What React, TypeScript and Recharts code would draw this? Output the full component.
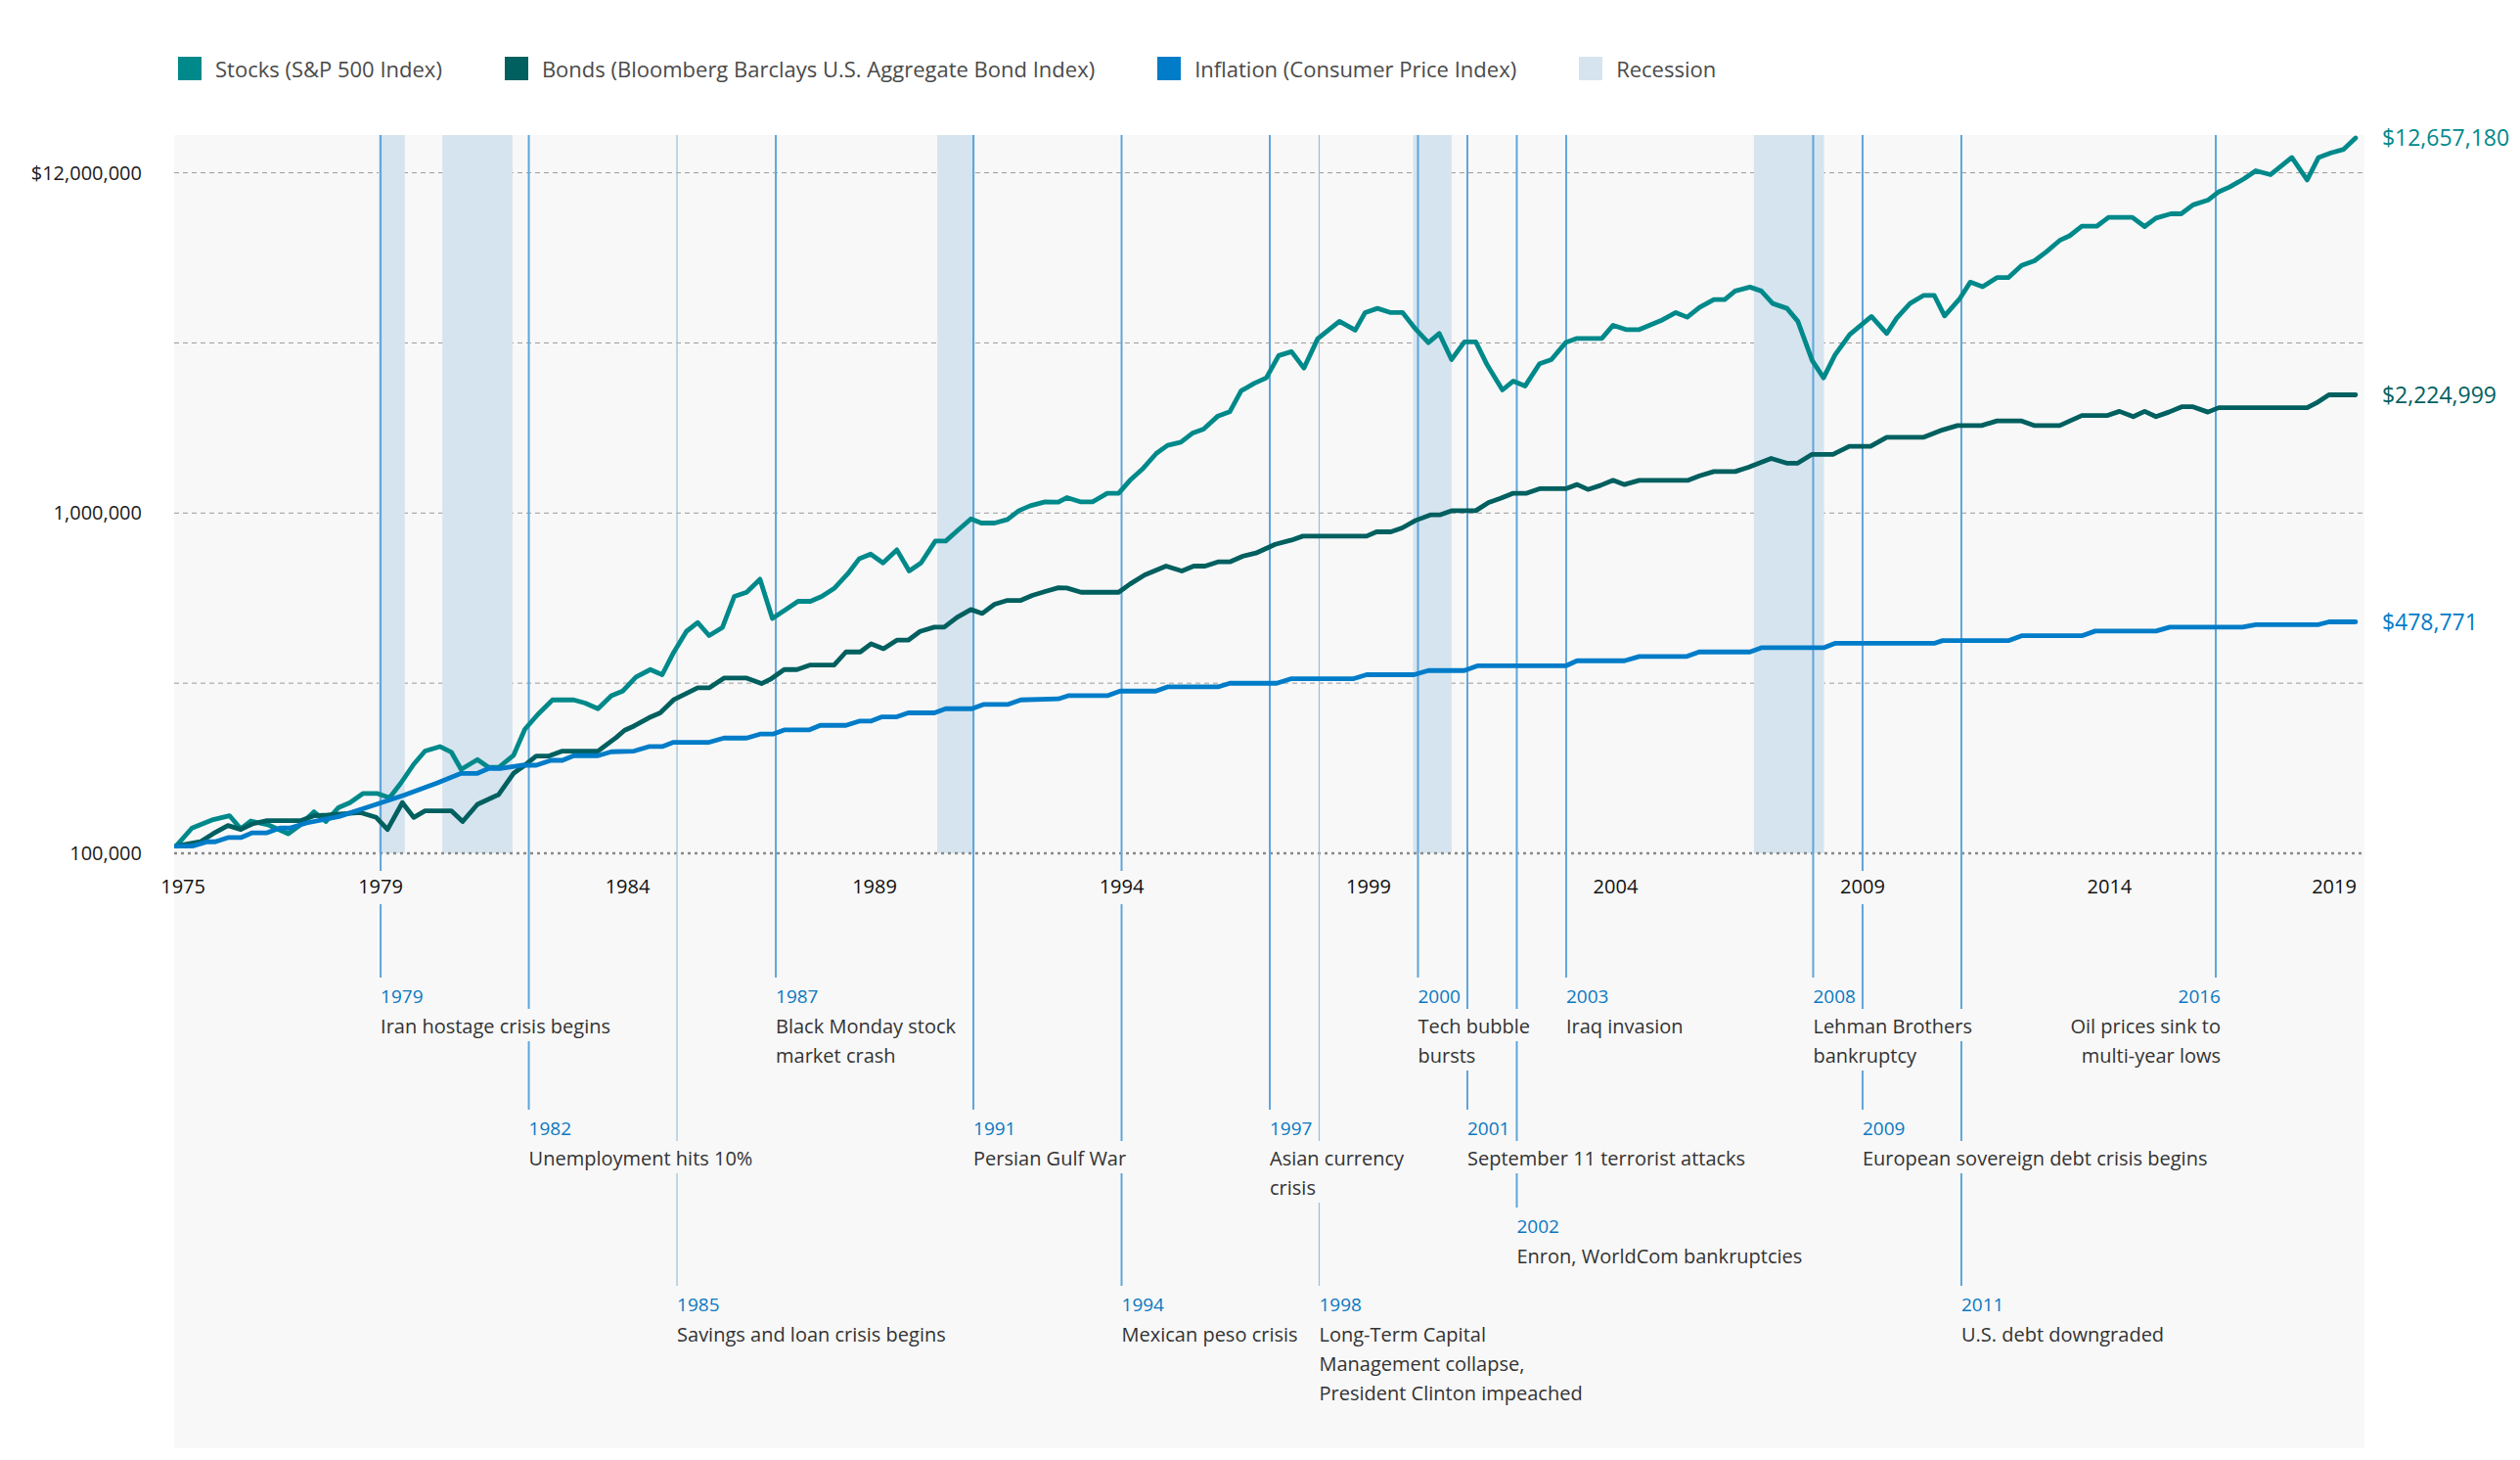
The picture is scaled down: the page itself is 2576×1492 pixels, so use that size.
import React from "react";
import {
    LineChart,
    Line,
    XAxis,
    YAxis,
    CartesianGrid,
    ReferenceArea,
    ReferenceLine,
    ReferenceDot,
} from "recharts";

const FONT = '"Open Sans", sans-serif';
const PANEL = "#f8f8f8";
const EVENT_BLUE = "#0a78c2";

// growth of $100,000, [year, value]
const stocks: [number, number][] = [
    [1974.86, 105000], [1975.18, 118600], [1975.61, 125600], [1975.94, 129000], [1976.17, 118000],
    [1976.37, 124400], [1976.74, 121000], [1977.13, 114100], [1977.36, 120700], [1977.65, 132400],
    [1977.89, 124000], [1978.15, 136300], [1978.38, 140900], [1978.64, 149800], [1978.94, 149800],
    [1979.18, 145600], [1979.41, 160800], [1979.67, 182700], [1979.9, 199700], [1980.2, 205900],
    [1980.43, 198400], [1980.63, 176400], [1980.96, 188500], [1981.19, 178800], [1981.39, 178800],
    [1981.69, 194000], [1981.92, 231500], [1982.18, 255700], [1982.48, 282400], [1982.91, 282400],
    [1983.14, 276300], [1983.4, 266000], [1983.67, 290500], [1983.9, 299700], [1984.17, 329500],
    [1984.46, 346700], [1984.7, 334800], [1984.93, 388800], [1985.19, 448900], [1985.42, 476500],
    [1985.65, 436300], [1985.92, 461000], [1986.16, 568700], [1986.41, 585000], [1986.68, 639000],
    [1986.93, 490300], [1987.2, 520500], [1987.45, 550200], [1987.7, 550200], [1987.93, 568700],
    [1988.19, 602000], [1988.46, 663600], [1988.69, 734400], [1988.92, 757700], [1989.17, 713800],
    [1989.45, 779500], [1989.7, 675700], [1989.94, 713800], [1990.23, 827500], [1990.44, 827500],
    [1990.7, 894000], [1990.95, 961700], [1991.16, 934700], [1991.43, 934700], [1991.69, 957000],
    [1991.92, 1016000], [1992.15, 1050000], [1992.45, 1078000], [1992.72, 1077000], [1992.89, 1110000],
    [1993.18, 1078000], [1993.41, 1078000], [1993.71, 1143000], [1993.94, 1143000], [1994.17, 1248000],
    [1994.44, 1355000], [1994.7, 1496000], [1994.93, 1581000], [1995.2, 1616000], [1995.43, 1715000],
    [1995.66, 1765000], [1995.95, 1928000], [1996.19, 1984000], [1996.42, 2286000], [1996.68, 2404000],
    [1996.93, 2497000], [1997.18, 2902000], [1997.44, 2980000], [1997.69, 2667000], [1997.97, 3254000],
    [1998.41, 3660000], [1998.73, 3447000], [1998.93, 3883000], [1999.18, 3995000], [1999.45, 3883000],
    [1999.69, 3883000], [1999.95, 3476000], [2000.21, 3169000], [2000.43, 3370000], [2000.68, 2825000],
    [2000.94, 3184000], [2001.17, 3184000], [2001.4, 2726000], [2001.71, 2300000], [2001.93, 2442000],
    [2002.17, 2363000], [2002.46, 2745000], [2002.7, 2825000], [2002.99, 3169000], [2003.22, 3260000],
    [2003.72, 3260000], [2003.95, 3563000], [2004.21, 3460000], [2004.48, 3460000], [2004.91, 3673000],
    [2005.22, 3883000], [2005.45, 3764000], [2005.7, 4022000], [2005.99, 4241000], [2006.21, 4241000],
    [2006.42, 4493000], [2006.72, 4614000], [2006.95, 4493000], [2007.18, 4130000], [2007.47, 3995000],
    [2007.69, 3660000], [2007.98, 2807000], [2008.21, 2497000], [2008.44, 2913000], [2008.74, 3348000],
    [2009.18, 3781000], [2009.49, 3370000], [2009.69, 3739000], [2009.96, 4130000], [2010.24, 4364000],
    [2010.45, 4364000], [2010.66, 3796000], [2010.96, 4252000], [2011.18, 4770000], [2011.43, 4625000],
    [2011.72, 4920000], [2011.95, 4920000], [2012.22, 5343000], [2012.48, 5512000], [2012.72, 5855000],
    [2012.99, 6327000], [2013.19, 6527000], [2013.44, 6964000], [2013.74, 6964000], [2013.98, 7397000],
    [2014.46, 7397000], [2014.71, 6950000], [2014.94, 7360000], [2015.24, 7576000], [2015.45, 7576000],
    [2015.69, 8047000], [2015.99, 8307000], [2016.2, 8777000], [2016.43, 9079000], [2016.72, 9598000],
    [2016.96, 10140000], [2017.26, 9875000], [2017.69, 11090000], [2018.0, 9529000], [2018.23, 11090000],
    [2018.48, 11440000], [2018.74, 11720000], [2018.98, 12657180],
];

const bonds: [number, number][] = [
    [1974.86, 105000], [1975.35, 108100], [1975.61, 114200], [1975.91, 120700], [1976.17, 117500],
    [1976.4, 122000], [1976.7, 124800], [1977.39, 124800], [1977.66, 129000], [1977.92, 129500],
    [1978.58, 131800], [1978.91, 127500], [1979.14, 117500], [1979.44, 140900], [1979.67, 127500],
    [1979.9, 133300], [1980.43, 133300], [1980.66, 124000], [1980.96, 139300], [1981.39, 148800],
    [1981.69, 171800], [1981.92, 181500], [1982.15, 193200], [1982.41, 193200], [1982.68, 199700],
    [1983.4, 199700], [1983.77, 219000], [1983.94, 229900], [1984.13, 236600], [1984.43, 250100],
    [1984.66, 258600], [1984.93, 282400], [1985.19, 295000], [1985.42, 306300], [1985.65, 306300],
    [1985.95, 327300], [1986.41, 327300], [1986.71, 315400], [1986.91, 326000], [1987.17, 346700],
    [1987.43, 346700], [1987.7, 357700], [1988.18, 357700], [1988.42, 390600], [1988.71, 390600],
    [1988.93, 412700], [1989.18, 399300], [1989.45, 423000], [1989.68, 423000], [1989.92, 448900],
    [1990.21, 461900], [1990.41, 461900], [1990.67, 493600], [1990.95, 520500], [1991.18, 506800],
    [1991.43, 539400], [1991.69, 553800], [1991.96, 553800], [1992.19, 572500], [1992.45, 587900],
    [1992.72, 603000], [1992.89, 602000], [1993.18, 585000], [1993.94, 585000], [1994.17, 618300],
    [1994.47, 658000], [1994.9, 698400], [1995.22, 675700], [1995.46, 698400], [1995.69, 698400],
    [1995.95, 718600], [1996.19, 718600], [1996.45, 746200], [1996.72, 762700], [1997.11, 809500],
    [1997.44, 832900], [1997.67, 855300], [1998.96, 855300], [1999.16, 880600], [1999.45, 880600],
    [1999.68, 904300], [1999.95, 951000], [2000.25, 987600], [2000.44, 987600], [2000.68, 1016000],
    [2001.17, 1016000], [2001.43, 1074000], [2001.67, 1104000], [2001.93, 1143000], [2002.2, 1143000],
    [2002.46, 1179000], [2002.99, 1179000], [2003.22, 1213000], [2003.44, 1173000], [2003.69, 1205000],
    [2003.95, 1248000], [2004.18, 1213000], [2004.48, 1248000], [2005.47, 1248000], [2005.7, 1287000],
    [2005.99, 1324000], [2006.42, 1324000], [2006.69, 1363000], [2007.15, 1447000], [2007.48, 1400000],
    [2007.68, 1400000], [2007.97, 1486000], [2008.4, 1486000], [2008.73, 1570000], [2009.16, 1570000],
    [2009.49, 1670000], [2010.24, 1670000], [2010.62, 1755000], [2010.92, 1808000], [2011.41, 1808000],
    [2011.72, 1865000], [2012.22, 1865000], [2012.47, 1808000], [2012.99, 1808000], [2013.44, 1935000],
    [2013.96, 1935000], [2014.2, 1990000], [2014.48, 1920000], [2014.71, 1990000], [2014.94, 1920000],
    [2015.2, 1980000], [2015.46, 2053000], [2015.69, 2053000], [2015.99, 1980000], [2016.21, 2040000],
    [2018.0, 2040000], [2018.22, 2120000], [2018.44, 2225000], [2018.98, 2224999],
];

const inflation: [number, number][] = [
    [1974.86, 105000], [1975.19, 105000], [1975.49, 108100], [1975.65, 108100], [1975.91, 111200],
    [1976.17, 111200], [1976.4, 114900], [1976.7, 114900], [1976.96, 118600], [1977.16, 118600],
    [1977.5, 122800], [1978.16, 128300], [1978.82, 137800], [1979.48, 148200], [1980.14, 160800],
    [1980.63, 171800], [1980.96, 171800], [1981.19, 177600], [1981.42, 177600], [1981.88, 181500],
    [1982.15, 181500], [1982.45, 187600], [1982.68, 187600], [1982.91, 193600], [1983.4, 193600],
    [1983.67, 198800], [1984.13, 199700], [1984.43, 205900], [1984.7, 205900], [1984.93, 212000],
    [1985.65, 212000], [1985.95, 218100], [1986.41, 218100], [1986.68, 224000], [1986.94, 224000],
    [1987.17, 230400], [1987.67, 230400], [1987.9, 237700], [1988.42, 237700], [1988.69, 244600],
    [1988.92, 244600], [1989.15, 251800], [1989.45, 251800], [1989.68, 258600], [1990.21, 258600],
    [1990.44, 266000], [1990.97, 266000], [1991.2, 273700], [1991.69, 273700], [1991.96, 282400],
    [1992.72, 284300], [1992.92, 290500], [1993.71, 290500], [1993.97, 299700], [1994.69, 299700],
    [1994.93, 308400], [1995.95, 308400], [1996.19, 316000], [1997.14, 316000], [1997.44, 326000],
    [1998.7, 326000], [1998.96, 334800], [1999.92, 334800], [2000.21, 344400], [2000.94, 344400],
    [2001.2, 355500], [2002.99, 355500], [2003.22, 368000], [2004.18, 368000], [2004.48, 378700],
    [2005.43, 378700], [2005.69, 390600], [2006.72, 390600], [2006.95, 401900], [2008.21, 401900],
    [2008.44, 414000], [2010.45, 414000], [2010.62, 421800], [2011.95, 421800], [2012.22, 436000],
    [2013.44, 436000], [2013.71, 450000], [2014.94, 450000], [2015.22, 462000], [2016.69, 462000],
    [2016.96, 470000], [2018.23, 470000], [2018.44, 478771], [2018.98, 478771],
];

const series = [
    { name: "Stocks (S&P 500 Index)", color: "#00898a", points: stocks },
    { name: "Bonds (Bloomberg Barclays U.S. Aggregate Bond Index)", color: "#005f5f", points: bonds },
    { name: "Inflation (Consumer Price Index)", color: "#007cc8", points: inflation },
];
const recessionColor = "#d6e4ef";

const recessions: [number, number][] = [
    [1978.96, 1979.49],
    [1980.25, 1981.67],
    [1990.27, 1991.03],
    [1999.9, 2000.68],
    [2006.8, 2008.22],
];

const xTicks = [1975, 1979, 1984, 1989, 1994, 1999, 2004, 2009, 2014, 2019];
const yTicks = [100000, 316228, 1000000, 3162278, 10000000];
const yTickLabels = ["100,000", "", "1,000,000", "", "$12,000,000"];

type EventNote = {
    year: number;
    label: string;
    lines: string[];
    row: number;
    faint?: boolean;
    alignEnd?: boolean;
};

const events: EventNote[] = [
    { year: 1979, label: "1979", lines: ["Iran hostage crisis begins"], row: 0 },
    { year: 1982, label: "1982", lines: ["Unemployment hits 10%"], row: 1 },
    { year: 1985, label: "1985", lines: ["Savings and loan crisis begins"], row: 3, faint: true },
    { year: 1987, label: "1987", lines: ["Black Monday stock", "market crash"], row: 0 },
    { year: 1991, label: "1991", lines: ["Persian Gulf War"], row: 1 },
    { year: 1994, label: "1994", lines: ["Mexican peso crisis"], row: 3 },
    { year: 1997, label: "1997", lines: ["Asian currency", "crisis"], row: 1 },
    { year: 1998, label: "1998", lines: ["Long-Term Capital", "Management collapse,", "President Clinton impeached"], row: 3, faint: true },
    { year: 2000, label: "2000", lines: ["Tech bubble", "bursts"], row: 0 },
    { year: 2001, label: "2001", lines: ["September 11 terrorist attacks"], row: 1 },
    { year: 2002, label: "2002", lines: ["Enron, WorldCom bankruptcies"], row: 2 },
    { year: 2003, label: "2003", lines: ["Iraq invasion"], row: 0 },
    { year: 2008, label: "2008", lines: ["Lehman Brothers", "bankruptcy"], row: 0 },
    { year: 2009, label: "2009", lines: ["European sovereign debt crisis begins"], row: 1 },
    { year: 2011, label: "2011", lines: ["U.S. debt downgraded"], row: 3 },
    { year: 2016.15, label: "2016", lines: ["Oil prices sink to", "multi-year lows"], row: 0, alignEnd: true },
];

// layout of the annotation band under the axis
const ROW_BASELINE = [1025, 1160, 1260, 1340];
const TEXT_STEP = 30;

let measureCtx: CanvasRenderingContext2D | null = null;
const textWidth = (s: string, size: number) => {
    if (!measureCtx) measureCtx = document.createElement("canvas").getContext("2d");
    if (!measureCtx) return s.length * size * 0.5;
    measureCtx.font = `${size}px "Open Sans"`;
    return measureCtx.measureText(s).width;
};

const eventLineShape = (ev: EventNote) => (p: any) => {
    const x = p.x1;
    const top = Math.min(p.y1, p.y2);
    const axisY = Math.max(p.y1, p.y2);
    const end = ROW_BASELINE[ev.row] - 26;
    // leave room for the year tick label when the line runs through it
    const segs = xTicks.includes(ev.year)
        ? [[top, axisY + 18], [axisY + 52, end]]
        : [[top, end]];
    return (
        <g>
            {segs.map(([a, b], i) => (
                <line
                    key={i}
                    x1={x}
                    x2={x}
                    y1={a}
                    y2={b}
                    stroke={ev.faint ? "#9dbdd6" : "#5ea6db"}
                    strokeWidth={ev.faint ? 1.2 : 2}
                />
            ))}
        </g>
    );
};

const eventLabelShape = (ev: EventNote) => (p: any) => {
    const base = ROW_BASELINE[ev.row];
    const ax = ev.alignEnd ? p.x1 + 5 : p.x1;
    const rows = [
        { text: ev.label, size: 19, color: EVENT_BLUE, y: base },
        ...ev.lines.map((t, i) => ({ text: t, size: 20, color: "#333", y: base + 31 + i * TEXT_STEP })),
    ];
    return (
        <g>
            {rows.map((r, i) => {
                const w = textWidth(r.text, r.size);
                const left = ev.alignEnd ? ax - w : ax;
                return <rect key={"m" + i} x={left - 5} y={r.y - 25} width={w + 10} height={33} fill={PANEL} />;
            })}
            {rows.map((r, i) => (
                <text
                    key={i}
                    x={ax}
                    y={r.y}
                    textAnchor={ev.alignEnd ? "end" : "start"}
                    fontSize={r.size}
                    fontFamily={FONT}
                    fill={r.color}
                >
                    {r.text}
                </text>
            ))}
        </g>
    );
};

const YearTick = ({ x, y, payload }: any) => {
    const last = payload.value === xTicks[xTicks.length - 1];
    return (
        <text
            x={x}
            y={y + 41}
            textAnchor={last ? "end" : "middle"}
            fontSize={20}
            fontFamily={FONT}
            fill="#111"
        >
            {payload.value}
        </text>
    );
};

const toRows = (pts: [number, number][]) => pts.map(([t, v]) => ({ t, v }));

const App = () => {
    return (
        <div style={{ position: "absolute", left: 0, top: 0, width: 2576, height: 1492, background: "#fff", fontFamily: FONT }}>
            <div style={{ position: "absolute", left: 178, top: 138, width: 2239, height: 1342, background: PANEL }} />

            <div
                style={{
                    position: "absolute",
                    left: 182,
                    top: 58,
                    display: "flex",
                    alignItems: "center",
                    gap: 64,
                    fontSize: 22,
                    lineHeight: "24px",
                    color: "#4a4a4a",
                    whiteSpace: "nowrap",
                }}
            >
                {[...series.map((s) => ({ name: s.name, color: s.color })), { name: "Recession", color: recessionColor }].map((it) => (
                    <div key={it.name} style={{ display: "flex", alignItems: "center", gap: 14 }}>
                        <span style={{ display: "inline-block", width: 24, height: 24, background: it.color }} />
                        <span>{it.name}</span>
                    </div>
                ))}
            </div>

            <div style={{ position: "absolute", left: 0, top: 0 }}>
                <LineChart width={2576} height={1492} margin={{ top: 138, right: 159, bottom: 560, left: 8 }}>
                    <CartesianGrid
                        vertical={false}
                        horizontalValues={[316228, 1000000, 3162278, 10000000]}
                        stroke="#9a9a9a"
                        strokeDasharray="5 4"
                    />
                    <XAxis
                        type="number"
                        dataKey="t"
                        domain={[1974.82, 2019.16]}
                        allowDataOverflow
                        ticks={xTicks}
                        interval={0}
                        axisLine={false}
                        tickLine={false}
                        tickSize={0}
                        tickMargin={0}
                        height={60}
                        tick={<YearTick />}
                    />
                    <YAxis
                        scale="log"
                        domain={[100000, 12910000]}
                        allowDataOverflow
                        ticks={yTicks}
                        interval={0}
                        width={170}
                        axisLine={false}
                        tickLine={false}
                        tickSize={0}
                        tickMargin={33}
                        tick={{ fontSize: 20, fill: "#1a1a1a", fontFamily: FONT }}
                        tickFormatter={(v: number) => yTickLabels[yTicks.indexOf(v)] ?? ""}
                    />

                    {recessions.map(([a, b]) => (
                        <ReferenceArea key={a} x1={a} x2={b} fill={recessionColor} fillOpacity={1} stroke="none" />
                    ))}

                    <ReferenceLine y={100000} stroke="#8a8a8a" strokeWidth={2.5} strokeDasharray="3 4" />

                    {events.map((ev) => (
                        <ReferenceLine key={"l" + ev.label} x={ev.year} shape={eventLineShape(ev)} />
                    ))}

                    {series.map((s) => (
                        <Line
                            key={s.name}
                            data={toRows(s.points)}
                            dataKey="v"
                            type="linear"
                            stroke={s.color}
                            strokeWidth={4.8}
                            strokeLinejoin="round"
                            strokeLinecap="round"
                            dot={false}
                            activeDot={false}
                            isAnimationActive={false}
                        />
                    ))}

                    {series.map((s) => {
                        const [t, v] = s.points[s.points.length - 1];
                        return (
                            <ReferenceDot
                                key={"end" + s.name}
                                x={t}
                                y={v}
                                r={0}
                                shape={(p: any) => (
                                    <text
                                        x={p.cx + 27}
                                        y={p.cy}
                                        dy="0.36em"
                                        fontSize={23}
                                        fontFamily={FONT}
                                        fill={s.color}
                                    >
                                        {"$" + v.toLocaleString("en-US")}
                                    </text>
                                )}
                            />
                        );
                    })}

                    {events.map((ev) => (
                        <ReferenceLine key={"t" + ev.label} x={ev.year} shape={eventLabelShape(ev)} />
                    ))}
                </LineChart>
            </div>
        </div>
    );
};

export default App;
